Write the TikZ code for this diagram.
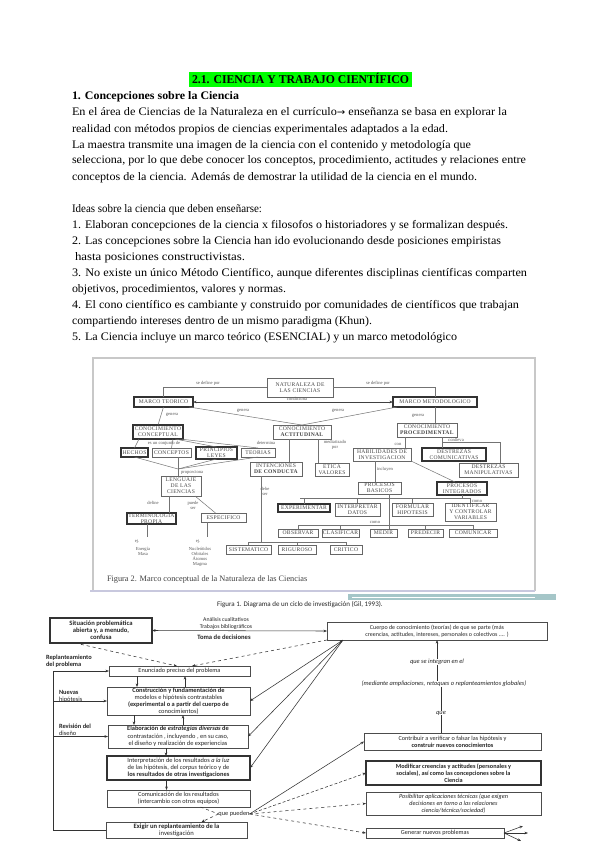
\documentclass[tikz,border=0pt]{standalone}
\usepackage{fontspec}
\usepackage{graphicx}
\setmainfont{Liberation Serif}
\newfontfamily\calfont{Carlito}
\newfontfamily\arrowfont{DejaVu Sans}
\newfontfamily\figfont[LetterSpace=5]{Liberation Serif}
\usetikzlibrary{arrows.meta}
\definecolor{hl}{RGB}{0,255,0}
\definecolor{framegray}{RGB}{200,200,200}
\definecolor{framelav}{RGB}{200,200,222}
\definecolor{tealbar}{RGB}{165,198,200}
\newcommand{\BX}[7][]{\node[#1, minimum width={(#5)-(#3)}, minimum height={(#6)-(#4)}] (#2) at ({((#3)+(#5))/2},{((#4)+(#6))/2}) {#7};}
\newcommand{\PLine}[2]{\resizebox{#1pt}{\height}{#2}}
\begin{document}
\begin{tikzpicture}[x=1pt,y=-1pt,
  every node/.style={inner sep=0pt, outer sep=0pt},
  ptext/.style={anchor=base west, font=\fontsize{11.5}{13}\selectfont},
  fb/.style={draw=black!60, line width=0.6pt, inner sep=0.5pt, align=center, text=black!72, font=\figfont\fontsize{5.6}{5.9}\selectfont},
  fbt/.style={fb, line width=1.1pt, draw=black!80},
  fl/.style={align=center, text=black!65, font=\fontsize{4.6}{5}\selectfont},
  fline/.style={draw=black!55, line width=0.5pt},
  gb/.style={draw=black!70, line width=0.6pt, inner sep=0.5pt, align=center, text=black!85, font=\calfont\fontsize{6.3}{6.9}\selectfont},
  gbt/.style={gb, line width=1.1pt, draw=black!80},
  gl/.style={align=center, text=black!85, font=\calfont\fontsize{6.3}{6.9}\selectfont},
  gline/.style={draw=black!80, line width=0.55pt},
  arr/.style={-{Stealth[length=3.5pt,width=2.6pt]}},
  darr/.style={{Stealth[length=3.5pt,width=2.6pt]}-{Stealth[length=3.5pt,width=2.6pt]}},
]
\useasboundingbox (0,0) rectangle (600,848);
\fill[white] (0,0) rectangle (600,848);

% ---------------- text ----------------
\fill[hl] (189,72) rectangle (412,87);
\node[anchor=base, font=\bfseries\fontsize{12}{14}\selectfont] (title) at (300.5,84) {\PLine{217}{2.1. CIENCIA Y TRABAJO CIENTÍFICO}};
\node[ptext, font=\bfseries\fontsize{11.5}{13}\selectfont] (h1) at (72,99.5) {\PLine{167}{1. Concepciones sobre la Ciencia}};
\node[ptext] (p1) at (72,116) {\PLine{435}{En el área de Ciencias de la Naturaleza en el currículo{\arrowfont\fontsize{9.5}{10}\selectfont →} enseñanza se basa en explorar la}};
\node[ptext] (p2) at (72,132) {\PLine{376}{realidad con métodos propios de ciencias experimentales adaptados a la edad.}};
\node[ptext] (p3) at (72,148) {\PLine{399}{La maestra transmite una imagen de la ciencia con el contenido y metodología que}};
\node[ptext] (p4) at (72,164) {\PLine{454}{selecciona, por lo que debe conocer los conceptos, procedimiento, actitudes y relaciones entre}};
\node[ptext] (p5) at (72,180) {\PLine{405}{conceptos de la ciencia. Además de demostrar la utilidad de la ciencia en el mundo.}};
\node[ptext] (p6) at (72,212) {\PLine{190}{Ideas sobre la ciencia que deben enseñarse:}};
\node[ptext] (p7) at (72,228) {\PLine{436}{1. Elaboran concepciones de la ciencia x filosofos o historiadores y se formalizan después.}};
\node[ptext] (p8) at (72,244) {\PLine{429}{2. Las concepciones sobre la Ciencia han ido evolucionando desde posiciones empiristas}};
\node[ptext] (p9) at (75,260) {\PLine{170}{hasta posiciones constructivistas.}};
\node[ptext] (p10) at (72,276) {\PLine{455}{3. No existe un único Método Científico, aunque diferentes disciplinas científicas comparten}};
\node[ptext] (p11) at (72,292) {\PLine{214}{objetivos, procedimientos, valores y normas.}};
\node[ptext] (p12) at (72,308) {\PLine{447}{4. El cono científico es cambiante y construido por comunidades de científicos que trabajan}};
\node[ptext] (p13) at (72,324) {\PLine{300}{compartiendo intereses dentro de un mismo paradigma (Khun).}};
\node[ptext] (p14) at (72,340) {\PLine{385}{5. La Ciencia incluye un marco teórico (ESENCIAL) y un marco metodológico}};

% ---------------- figure 2 (marco conceptual) ----------------
\draw[framegray, line width=1.3pt] (93,591) -- (93,358) -- (535,358) -- (535,591);
\draw[framelav, line width=1.6pt] (90,591) -- (535,591);

\BX[fb]{NAT}{267}{378}{333}{397}{NATURALEZA DE\\LAS CIENCIAS}
\BX[fbt]{MT}{134}{397}{193}{407}{MARCO TEORICO}
\BX[fbt]{MM}{393}{397}{477}{407}{MARCO METODOLOGICO}
\BX[fbt]{CC}{133}{425}{183}{439}{CONOCIMIENTO\\CONCEPTUAL}
\BX[fb]{CA}{273}{425}{331}{439}{CONOCIMIENTO\\\textbf{ACTITUDINAL}}
\BX[fb]{CP}{397}{423}{457}{437}{CONOCIMIENTO\\\textbf{PROCEDIMENTAL}}
\BX[fbt]{HE}{121}{448}{148}{457}{HECHOS}
\BX[fb]{CO}{152}{448}{191}{457}{CONCEPTOS}
\BX[fbt]{PR}{196}{447}{237}{459}{PRINCIPIOS\\LEYES}
\BX[fb]{TE}{241}{448}{275}{457}{TEORIAS}
\BX[fb]{IN}{250}{462}{302}{476}{INTENCIONES\\\textbf{DE CONDUCTA}}
\BX[fb]{ET}{315}{463}{349}{476}{ETICA\\VALORES}
\BX[fb]{HA}{353}{448}{411}{461}{HABILIDADES DE\\INVESTIGACION}
\BX[fbt]{DC}{422}{448}{486}{461}{DESTREZAS\\COMUNICATIVAS}
\BX[fb]{DM}{459}{463}{518}{477}{DESTREZAS\\MANIPULATIVAS}
\BX[fb]{LE}{161}{476}{201}{496}{LENGUAJE\\DE LAS\\CIENCIAS}
\BX[fb]{PB}{358}{482}{401}{494}{PROCESOS\\BASICOS}
\BX[fbt]{PI}{437}{482}{487}{495}{PROCESOS\\INTEGRADOS}
\BX[fbt]{TP}{127}{513}{176}{524}{TERMINOLOGIA\\PROPIA}
\BX[fb]{ES}{201}{513}{246}{522}{ESPECIFICO}
\BX[fbt]{EX}{278}{504}{330}{512}{EXPERIMENTAR}
\BX[fb]{ID}{335}{503}{380}{516}{INTERPRETAR\\DATOS}
\BX[fb]{FH}{392}{503}{433}{516}{FORMULAR\\HIPOTESIS}
\BX[fb]{IV}{445}{503}{496}{521}{IDENTIFICAR\\Y CONTROLAR\\VARIABLES}
\BX[fb]{OB}{278}{529}{318}{537}{OBSERVAR}
\BX[fb]{CL}{322}{529}{359}{537}{CLASIFICAR}
\BX[fb]{ME}{370}{529}{397}{537}{MEDIR}
\BX[fb]{PD}{408}{529}{443}{537}{PREDECIR}
\BX[fb]{CM}{449}{529}{497}{537}{COMUNICAR}
\BX[fb]{SI}{226}{545}{271}{554}{SISTEMATICO}
\BX[fb]{RI}{278}{545}{316}{554}{RIGUROSO}
\BX[fb]{CR}{330}{545}{362}{554}{CRITICO}

\node[fl] (l1) at (208,383) {se define por};
\node[fl] (l2) at (378,383) {se define por};
\node[fl] (l3) at (297,399) {condiciona};
\node[fl] (l4) at (172,415) {genera};
\node[fl] (l5) at (243,411) {genera};
\node[fl] (l6) at (338,411) {genera};
\node[fl] (l7) at (418,416) {genera};
\node[fl] (l8) at (164,443) {es un conjunto de};
\node[fl] (l9) at (266,443) {determina};
\node[fl] (l10) at (335,444.5) {mediatizado\\por};
\node[fl] (l11) at (398,444) {con};
\node[fl] (l12) at (456,440) {conlleva};
\node[fl] (l13) at (385,469) {incluyen};
\node[fl, anchor=west] (l14) at (181,472.5) {proporciona};
\node[fl] (l15) at (153,503) {define};
\node[fl] (l16) at (193,505) {puede\\ser};
\node[fl] (l17) at (477,501) {como};
\node[fl] (l18) at (375,522) {como};
\node[fl] (l19) at (265,491) {debe\\ser};
\node[fl] (l20) at (137,541) {ej.};
\node[fl] (l21) at (198,541) {ej.};
\node[fl, anchor=north] (l22) at (143,547) {Energía\\Masa};
\node[fl, anchor=north] (l23) at (200,547) {Nucleótidos\\Orbitales\\Átomos\\Magma};

\coordinate (J1) at (178,469);
\coordinate (E1) at (147,537);
\coordinate (E2) at (207,537);
\coordinate (H1) at (261,542);
\coordinate (C1) at (442,442);
\coordinate (R1) at (300,498);
\coordinate (R2) at (298,525);

\draw[fline] (MT.north) |- (NAT.west);
\draw[fline] (NAT.east) -| (MM.north);
\draw[fline, darr, draw=black!75] (MT.east) -- (MM.west);
\draw[fline] (MT.south) -- (CC.north);
\draw[fline] ([xshift=-4pt]MT.south east) -- (CA.north);
\draw[fline] ([xshift=4pt]MM.south west) -- (CA.north);
\draw[fline] (MM.south) -- (MM.south |- CP.north);
\draw[fline] ([xshift=6pt]CC.south west) -- (HE.north);
\draw[fline] ([xshift=15pt]CC.south) -- (CO.north);
\draw[fline] ([xshift=-8pt]CC.south east) -- (PR.north);
\draw[fline] ([xshift=-3pt]CC.south east) -- (TE.north);
\draw[fline] (HE.south) -- (J1);
\draw[fline] (CO.south -| J1) -- (J1);
\draw[fline] (PR.south) -- (J1);
\draw[fline] (TE.south) -- (J1);
\draw[fline] (J1) -- (J1 |- LE.north);
\draw[fline] ([xshift=8pt]LE.south west) -- ([xshift=8pt]LE.south west |- TP.north);
\draw[fline] ([xshift=-6pt]LE.south east) -- ([xshift=-8pt]ES.north);
\draw[fline] (E1 |- TP.south) -- (E1);
\draw[fline] (E2 |- ES.south) -- (E2);
\draw[fline] ([xshift=-13pt]CA.south) -- ([xshift=-13pt]CA.south |- IN.north);
\draw[fline] ([xshift=16pt]CA.south) -- ([xshift=16pt]CA.south |- ET.north);
\draw[fline] (H1 |- IN.south) -- (H1);
\draw[fline] (SI.north |- H1) -- (CR.north |- H1);
\draw[fline] (SI.north) -- (SI.north |- H1);
\draw[fline] (RI.north) -- (RI.north |- H1);
\draw[fline] (CR.north) -- (CR.north |- H1);
\draw[fline] ([xshift=8pt]CP.south west) -- ([xshift=8pt]CP.south west |- HA.north);
\draw[fline] ([xshift=-15pt]CP.south east) -- ([xshift=-15pt]CP.south east |- DC.north);
\draw[fline] (C1) -| ([xshift=-18pt]DM.north east);
\draw[fline] ([xshift=22pt]HA.south west) -- ([xshift=22pt]HA.south west |- PB.north);
\draw[fline] (HA.south east) -- ([xshift=18pt]PI.north west);
\draw[fline] (R1) -- (IV.north |- R1);
\draw[fline] (EX.north) -- (EX.north |- R1);
\draw[fline] (ID.north) -- (ID.north |- R1);
\draw[fline] (FH.north) -- (FH.north |- R1);
\draw[fline] (IV.north) -- (IV.north |- R1);
\draw[fline] (PI.south) -- (PI.south |- R1);
\draw[fline] ([xshift=10pt]PB.south) -- ([xshift=10pt]PB.south |- ME.north);
\draw[fline] (R2) -- (CM.north |- R2);
\draw[fline] (OB.north) -- (OB.north |- R2);
\draw[fline] (CL.north) -- (CL.north |- R2);
\draw[fline] (PD.north) -- (PD.north |- R2);
\draw[fline] (CM.north) -- (CM.north |- R2);

\node[anchor=base west, text=black!75, font=\fontsize{8.3}{9}\selectfont] (cap2) at (107,581) {Figura 2. Marco conceptual de la Naturaleza de las Ciencias};

% ---------------- figure 1 (ciclo de investigación) ----------------
\fill[tealbar] (348,594) rectangle (556,600);
\draw[white, line width=0.8pt] (352,597) -- (535,597);
\node[anchor=base, text=black!85, font=\calfont\fontsize{7}{8}\selectfont] (cap1) at (300,606.5) {Figura 1. Diagrama de un ciclo de investigación (Gil, 1993).};

\BX[gbt, font=\calfont\bfseries\fontsize{6.6}{7}\selectfont]{SP}{50}{618}{152}{643}{Situación problemática\\abierta y, a menudo,\\confusa}
\BX[gb, font=\calfont\fontsize{6}{6.6}\selectfont]{CU}{327}{622}{547}{640}{Cuerpo de conocimiento (teorías) de que se parte (más\\creencias, actitudes, intereses, personales o colectivos .... )}
\BX[gb]{EN}{109}{666}{250}{676}{Enunciado preciso del problema}
\BX[gb, font=\calfont\fontsize{6.4}{7.1}\selectfont]{CF}{107}{687}{250}{715}{\textbf{Construcción y fundamentación de}\\modelos e hipótesis contrastables\\\textbf{(experimental o a partir del cuerpo de}\\conocimientos)}
\BX[gb, font=\calfont\fontsize{6.4}{7.3}\selectfont]{EL}{108}{725}{248}{748}{\textbf{Elaboración de \textit{estrategias diversas} de}\\contrastación , incluyendo , en su caso,\\el diseño y realización de experiencias}
\BX[gbt, font=\calfont\fontsize{6.4}{7.3}\selectfont]{IT}{107}{756}{250}{780}{Interpretación de los resultados \textit{a la luz}\\de las hipótesis, del \textit{corpus} teórico y de\\\textbf{los resultados de otras investigaciones}}
\BX[gb]{CM2}{107}{790}{250}{807}{Comunicación de los resultados\\(intercambio con otros equipos)}
\BX[gb, font=\calfont\fontsize{6.6}{7.3}\selectfont]{EX2}{106}{822}{247}{838}{\textbf{Exigir un replanteamiento de la}\\investigación}
\BX[gb, font=\calfont\fontsize{6.2}{6.9}\selectfont]{CB}{364}{733}{541}{750}{Contribuir a verificar o falsar las hipótesis y\\\textbf{construir nuevos conocimientos}}
\BX[gbt, font=\calfont\bfseries\fontsize{6.2}{6.9}\selectfont]{MO}{366}{761}{541}{785}{Modificar creencias y actitudes (personales y\\sociales), así como las concepciones sobre la\\Ciencia}
\BX[gb, font=\calfont\itshape\fontsize{6.2}{6.9}\selectfont]{PO}{366}{792}{541}{815}{Posibilitar aplicaciones técnicas (que exigen\\decisiones en torno a las relaciones\\ciencia/técnica/sociedad)}
\BX[gb, font=\calfont\fontsize{6.2}{6.9}\selectfont]{GE}{366}{828}{504}{838}{Generar nuevos problemas}

\node[gl, font=\calfont\fontsize{5.8}{6.5}\selectfont] (AC) at (226,619.5) {Análisis cualitativos};
\node[gl, font=\calfont\fontsize{5.8}{6.5}\selectfont] (TB) at (226,627) {Trabajos bibliográficos};
\node[gl, font=\calfont\bfseries\fontsize{6.6}{7}\selectfont] (TD) at (224,637.5) {Toma de decisiones};
\node[gl, anchor=north west, align=left, font=\calfont\bfseries\fontsize{6.4}{7}\selectfont] (RP) at (46,655) {Replanteamiento\\del problema};
\node[gl, anchor=north west, align=left, font=\calfont\fontsize{6.4}{7}\selectfont] (NH) at (59,690) {\textbf{Nuevas}\\hipótesis};
\node[gl, anchor=north west, align=left, font=\calfont\fontsize{6.4}{7}\selectfont] (RD) at (59,724) {\textbf{Revisión del}\\diseño};
\node[gl, font=\calfont\itshape\fontsize{6.4}{7}\selectfont] (T1) at (437,662) {que se integran en el};
\node[gl, font=\calfont\itshape\fontsize{6.4}{7}\selectfont] (T2) at (444,684) {(mediante ampliaciones, retoques o replanteamientos globales)};
\node[gl, font=\calfont\itshape\fontsize{6.4}{7}\selectfont] (T3) at (441,713) {que};
\node[gl, font=\calfont\fontsize{6.4}{7}\selectfont] (QP) at (234,814) {que pueden};

\coordinate (LX) at (53,0);
\coordinate (K) at (343,640);
\coordinate (G1) at (523,826);
\coordinate (G2) at (528,833);
\coordinate (G3) at (521,841);

\draw[gline, darr] (SP.east) -- (CU.west);
\draw[gline, arr] (EX2.west) -| (LX |- EN.west) -- (EN.west);
\draw[gline, arr] (LX |- CF.west) -- (CF.west);
\draw[gline, arr] (LX |- EL.west) -- (EL.west);
\draw[gline, arr, dashed] ([xshift=25pt]SP.south west) -- ([xshift=68pt]EN.north west);
\draw[gline, arr, dashed] (CU.south west) -- ([xshift=83pt]EN.north west);
\draw[gline, darr] (K) -- (CF.east);
\draw[gline, arr] (K) -- (EL.east);
\draw[gline, arr] (K) -- (IT.east);
\draw[gline, arr] ([xshift=28pt]EN.south west) -- ([xshift=28pt]EN.south west |- CF.north);
\draw[gline, arr] ([xshift=76pt]EN.south west |- CF.north) -- ([xshift=76pt]EN.south west);
\draw[gline, arr] ([xshift=27pt]CF.south west) -- ([xshift=27pt]CF.south west |- EL.north);
\draw[gline, arr] ([xshift=76pt]CF.south west |- EL.north) -- ([xshift=76pt]CF.south west);
\draw[gline, arr] ([xshift=-12pt]EL.south) -- ([xshift=-12pt]EL.south |- IT.north);
\draw[gline, arr] ([xshift=-12pt]IT.south) -- ([xshift=-12pt]IT.south |- CM2.north);
\draw[gline, dashed] ([xshift=22pt]CM2.south) -- (QP.west);
\draw[gline, dashed, arr] (QP.west) -- ([xshift=25pt]EX2.north);
\draw[gline, arr] (QP.east) -- (CB.west);
\draw[gline, arr, densely dashed] (QP.east) -- (MO.west);
\draw[gline, arr, dashed] (QP.east) -- (PO.west);
\draw[gline, arr, dashed] (QP.east) -- (GE.west);
\draw[gline, arr] (GE.east) -- (G1);
\draw[gline, arr] (GE.east) -- (G2);
\draw[gline, arr] (GE.east) -- (G3);
\draw[gline, arr] (T1.north) -- (T1.north |- CU.south);
\draw[gline] (T1.south) -- (T1.south |- T2.north);
\draw[gline, line width=0.9pt] (T3.north |- T2.south) -- (T3.north);
\draw[gline] (T3.south) -- (T3.south |- CB.north);
\end{tikzpicture}
\end{document}
